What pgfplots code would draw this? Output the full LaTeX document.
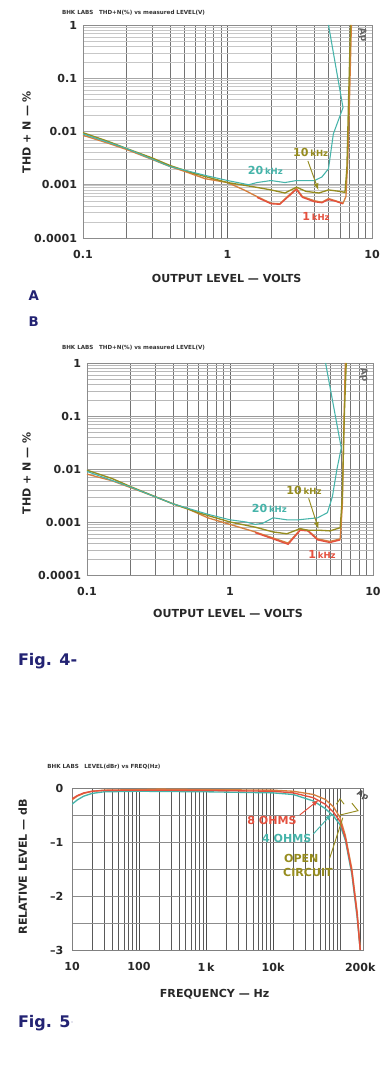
\documentclass[border=0pt]{standalone}
\usepackage{fontspec}
\setmainfont{DejaVu Sans}
\usepackage{pgfplots}
\pgfplotsset{compat=1.18}
\definecolor{cred}{RGB}{228,80,62}
\definecolor{corange}{RGB}{214,128,62}
\definecolor{colive}{RGB}{150,140,30}
\definecolor{ccyan}{RGB}{70,180,170}
\definecolor{cnavy}{RGB}{35,35,115}
\definecolor{ctext}{RGB}{40,40,40}
\newcommand{\tlf}{\fontsize{8.3}{10}\selectfont\bfseries}
\newcommand{\alf}{\fontsize{8.3}{10}\selectfont\bfseries}
\newcommand{\anf}{\fontsize{8.3}{10}\selectfont\bfseries}
\newcommand{\khz}{{\fontsize{6.4}{8}\selectfont kHz}}
\newcommand{\ttlf}{\fontsize{4.2}{5}\selectfont\bfseries}
\begin{document}
\begin{tikzpicture}
\useasboundingbox (0,0) rectangle (294pt,-799.5pt);
\fill[white] (0,0) rectangle (294pt,-799.5pt);

% ---------------- Plot A ----------------
\begin{axis}[scale only axis, at={(62.25pt,-178.5pt)}, anchor=south west, width=216.75pt, height=159.75pt,
    xmode=log, ymode=log,
    xmin=0.1, xmax=10, ymin=0.0001, ymax=1,
    xtick={0.1,1,10}, xticklabels={0.1,1,10},
    ytick={0.0001,0.001,0.01,0.1,1}, yticklabels={0.0001,0.001,0.01,0.1,1},
    grid=both,
    major x grid style={black!60, line width=0.6pt},
    minor x grid style={black!55, line width=0.55pt},
    major y grid style={black!35, line width=0.4pt},
    minor y grid style={black!22, line width=0.3pt},
    axis line style={black!45},
    major tick length=0pt, minor tick length=0pt,
    tick label style={font=\tlf, text=ctext},
    xticklabel style={yshift=-6pt},
    yticklabel style={xshift=-1pt}]
\addplot[corange, line width=1pt] coordinates {(0.1,0.0085)(0.15,0.006)(0.2,0.0046)(0.3,0.003)(0.4,0.0022)(0.5,0.0018)(0.7,0.0013)(1,0.0011)(1.3,0.0008)(1.6,0.0006)(2,0.00045)(2.3,0.00044)(2.6,0.0006)(3,0.00085)(3.3,0.0006)(4,0.0005)(4.5,0.00047)(5,0.00055)(5.6,0.0005)(6.3,0.00045)(6.6,0.0006)(6.8,0.003)(7.0,0.05)(7.2,1)};
\addplot[cred, line width=1pt] coordinates {(1.6,0.00058)(2,0.00044)(2.3,0.00043)(2.6,0.00058)(3,0.00082)(3.3,0.00058)(4,0.00048)(4.5,0.00046)(5,0.00053)(5.6,0.00049)(6.3,0.00044)};
\addplot[colive, line width=1pt] coordinates {(0.1,0.0095)(0.15,0.0065)(0.2,0.0048)(0.3,0.0032)(0.4,0.0023)(0.6,0.0016)(1,0.0011)(1.5,0.00092)(2,0.0008)(2.5,0.0007)(3,0.0009)(3.5,0.00075)(4.3,0.0007)(5,0.0008)(6,0.00075)(6.5,0.00072)(6.7,0.002)(6.9,0.05)(7.1,1)};
\addplot[ccyan, line width=0.8pt] coordinates {(0.1,0.009)(0.2,0.0048)(0.4,0.0022)(0.7,0.0015)(1,0.0012)(1.4,0.001)(1.6,0.0011)(2,0.0012)(2.5,0.0011)(3,0.0012)(4,0.0012)(4.5,0.0014)(5,0.002)(5.4,0.009)(6.3,0.028)(5.0,1.0)};
\draw[colive, line width=0.7pt, -latex] (axis cs:3.6,0.0028) -- (axis cs:4.25,0.0008);
\end{axis}
\node[anchor=west, text=black!80] at (43pt,-9.75pt) {\ttlf BHK LABS\quad THD+N(\%) vs measured LEVEL(V)};
\node[colive] at (233pt,-114pt) {\anf 10\,\khz};
\node[ccyan] at (199pt,-128pt) {\anf 20\,\khz};
\node[cred] at (237pt,-162pt) {\anf 1\,\khz};
\node[rotate=-80, black!60] at (272pt,-26pt) {\fontsize{7}{8}\selectfont\bfseries Ap};
\node[rotate=90, text=ctext] at (20pt,-99pt) {\alf THD + N --- \%};
\node[text=ctext] at (170pt,-208.5pt) {\alf OUTPUT LEVEL --- VOLTS};
\node[text=cnavy, anchor=west] at (18pt,-222pt) {\fontsize{10}{12}\selectfont\bfseries A};
\node[text=cnavy, anchor=west] at (18pt,-241pt) {\fontsize{10}{12}\selectfont\bfseries B};

% ---------------- Plot B ----------------
\begin{axis}[scale only axis, at={(65.25pt,-431.25pt)}, anchor=south west, width=214.5pt, height=159pt,
    xmode=log, ymode=log,
    xmin=0.1, xmax=10, ymin=0.0001, ymax=1,
    xtick={0.1,1,10}, xticklabels={0.1,1,10},
    ytick={0.0001,0.001,0.01,0.1,1}, yticklabels={0.0001,0.001,0.01,0.1,1},
    grid=both,
    major x grid style={black!60, line width=0.6pt},
    minor x grid style={black!55, line width=0.55pt},
    major y grid style={black!40, line width=0.4pt},
    minor y grid style={black!28, line width=0.3pt},
    axis line style={black!45},
    major tick length=0pt, minor tick length=0pt,
    tick label style={font=\tlf, text=ctext},
    xticklabel style={yshift=-6pt},
    yticklabel style={xshift=-1pt}]
\addplot[corange, line width=1pt] coordinates {(0.1,0.008)(0.15,0.006)(0.2,0.0045)(0.3,0.003)(0.4,0.0022)(0.5,0.0018)(0.7,0.0012)(1,0.0009)(1.5,0.00065)(2,0.0005)(2.55,0.0004)(3.1,0.00072)(3.5,0.0007)(4.1,0.00048)(5,0.00043)(5.9,0.00048)(6.1,0.002)(6.25,0.05)(6.4,1)};
\addplot[cred, line width=1pt] coordinates {(1.5,0.00063)(2,0.00048)(2.55,0.00038)(3.1,0.0007)(3.5,0.00068)(4.1,0.00046)(5,0.00041)(5.9,0.00046)};
\addplot[colive, line width=1pt] coordinates {(0.1,0.0095)(0.15,0.0066)(0.2,0.0047)(0.3,0.003)(0.4,0.0022)(0.6,0.0015)(1,0.001)(1.5,0.0008)(2,0.00065)(2.5,0.0006)(3.1,0.00075)(3.5,0.0007)(4.2,0.0007)(5,0.00068)(5.9,0.00078)(6.1,0.003)(6.3,0.1)(6.5,1)};
\addplot[ccyan, line width=0.8pt] coordinates {(0.1,0.009)(0.2,0.0046)(0.4,0.0022)(0.7,0.0014)(1,0.0011)(1.3,0.001)(1.5,0.0009)(1.7,0.00095)(2,0.0012)(2.5,0.0011)(3,0.0011)(4.1,0.0012)(4.8,0.0015)(5.2,0.003)(5.6,0.01)(6.0,0.025)(4.66,1.0)};
\draw[colive, line width=0.7pt, -latex] (axis cs:3.55,0.0028) -- (axis cs:4.15,0.00075);
\end{axis}
\node[anchor=west, text=black!80] at (43pt,-261pt) {\ttlf BHK LABS\quad THD+N(\%) vs measured LEVEL(V)};
\node[colive] at (228pt,-368pt) {\anf 10\,\khz};
\node[ccyan] at (202pt,-381pt) {\anf 20\,\khz};
\node[cred] at (241.5pt,-416pt) {\anf 1\,\khz};
\node[rotate=-80, black!60] at (273pt,-281pt) {\fontsize{7}{8}\selectfont\bfseries Ap};
\node[rotate=90, text=ctext] at (20pt,-355pt) {\alf THD + N --- \%};
\node[text=ctext] at (171pt,-460pt) {\alf OUTPUT LEVEL --- VOLTS};
\node[text=cnavy, anchor=west] at (10pt,-496pt) {\fontsize{12}{14}\selectfont\bfseries Fig. 4-};

% ---------------- Plot C ----------------
\begin{axis}[scale only axis, at={(54pt,-712.5pt)}, anchor=south west, width=218.25pt, height=121.5pt,
  xmode=log, xmin=10, xmax=220000, ymin=-3, ymax=0,
  xtick={10,100,1000,10000,200000}, xticklabels={10,100,1\,k,10k,200k},
  minor xtick={20,30,40,50,60,70,80,90,200,300,400,500,600,700,800,900,2000,3000,4000,5000,6000,7000,8000,9000,20000,30000,40000,50000,60000,70000,80000,90000,100000},
  ytick={-3,-2,-1,0}, yticklabels={--3,--2,--1,0},
  minor ytick={-2.5,-1.5,-0.5},
  grid=both,
  major x grid style={black!70, line width=0.6pt},
  minor x grid style={black!65, line width=0.55pt},
  major y grid style={black!45, line width=0.5pt},
  minor y grid style={black!45, line width=0.5pt},
  axis line style={black!50},
  major tick length=0pt, minor tick length=0pt,
  tick label style={font=\tlf, text=ctext},
  xticklabel style={yshift=-6pt},
  yticklabel style={xshift=-3pt}]
\addplot[ccyan, line width=1pt] coordinates {(10,-0.3)(12,-0.22)(15,-0.15)(20,-0.1)(30,-0.07)(100,-0.06)(1000,-0.07)(10000,-0.09)(20000,-0.12)(40000,-0.24)(60000,-0.38)(80000,-0.52)(100000,-0.68)(120000,-0.97)(150000,-1.6)(180000,-2.4)(200000,-3)};
\addplot[corange, line width=1pt] coordinates {(10,-0.22)(12,-0.15)(15,-0.1)(20,-0.06)(30,-0.04)(100,-0.03)(200,-0.02)(1000,-0.03)(10000,-0.04)(20000,-0.06)(40000,-0.12)(60000,-0.21)(80000,-0.35)(100000,-0.55)(120000,-0.88)(150000,-1.5)(180000,-2.3)(200000,-3)};
\addplot[cred, line width=1pt] coordinates {(10,-0.2)(12,-0.14)(15,-0.09)(20,-0.06)(30,-0.045)(100,-0.04)(1000,-0.045)(10000,-0.06)(20000,-0.09)(40000,-0.18)(60000,-0.3)(80000,-0.45)(100000,-0.62)(120000,-0.93)(150000,-1.55)(180000,-2.35)(200000,-3)};
\draw[cred, line width=0.7pt, -latex] (axis cs:25000,-0.5) -- (axis cs:48000,-0.22);
\draw[ccyan, line width=0.7pt, -latex] (axis cs:40000,-0.85) -- (axis cs:75000,-0.48);
\draw[colive, line width=0.7pt] (axis cs:70000,-1.3) -- (axis cs:110000,-0.55);
\draw[colive, line width=0.7pt] (axis cs:88000,-0.3) -- (axis cs:100000,-0.2) -- (axis cs:115000,-0.3);
\draw[colive, line width=0.7pt] (axis cs:100000,-0.5) -- (axis cs:185000,-0.42) -- (axis cs:150000,-0.28);
\end{axis}
\node[anchor=west, text=black!80] at (32pt,-575pt) {\ttlf BHK LABS\quad LEVEL(dBr) vs FREQ(Hz)};
\node[cred] at (204pt,-615pt) {\anf 8 OHMS};
\node[ccyan] at (215pt,-628.5pt) {\anf 4 OHMS};
\node[colive] at (226pt,-643.5pt) {\anf OPEN};
\node[colive] at (231pt,-654pt) {\anf CIRCUIT};
\node[rotate=-30, black!70, inner sep=0.5pt] at (272pt,-597pt) {\fontsize{6}{7}\selectfont\bfseries Ap};
\node[rotate=90, text=ctext] at (17pt,-650pt) {\alf RELATIVE LEVEL --- dB};
\node[text=ctext] at (161pt,-746pt) {\alf FREQUENCY --- Hz};
\node[text=cnavy, anchor=west] at (10pt,-767pt) {\fontsize{12}{14}\selectfont\bfseries Fig. 5\raisebox{2pt}{\fontsize{6}{6}\selectfont$\cdot$}};
\end{tikzpicture}
\end{document}
